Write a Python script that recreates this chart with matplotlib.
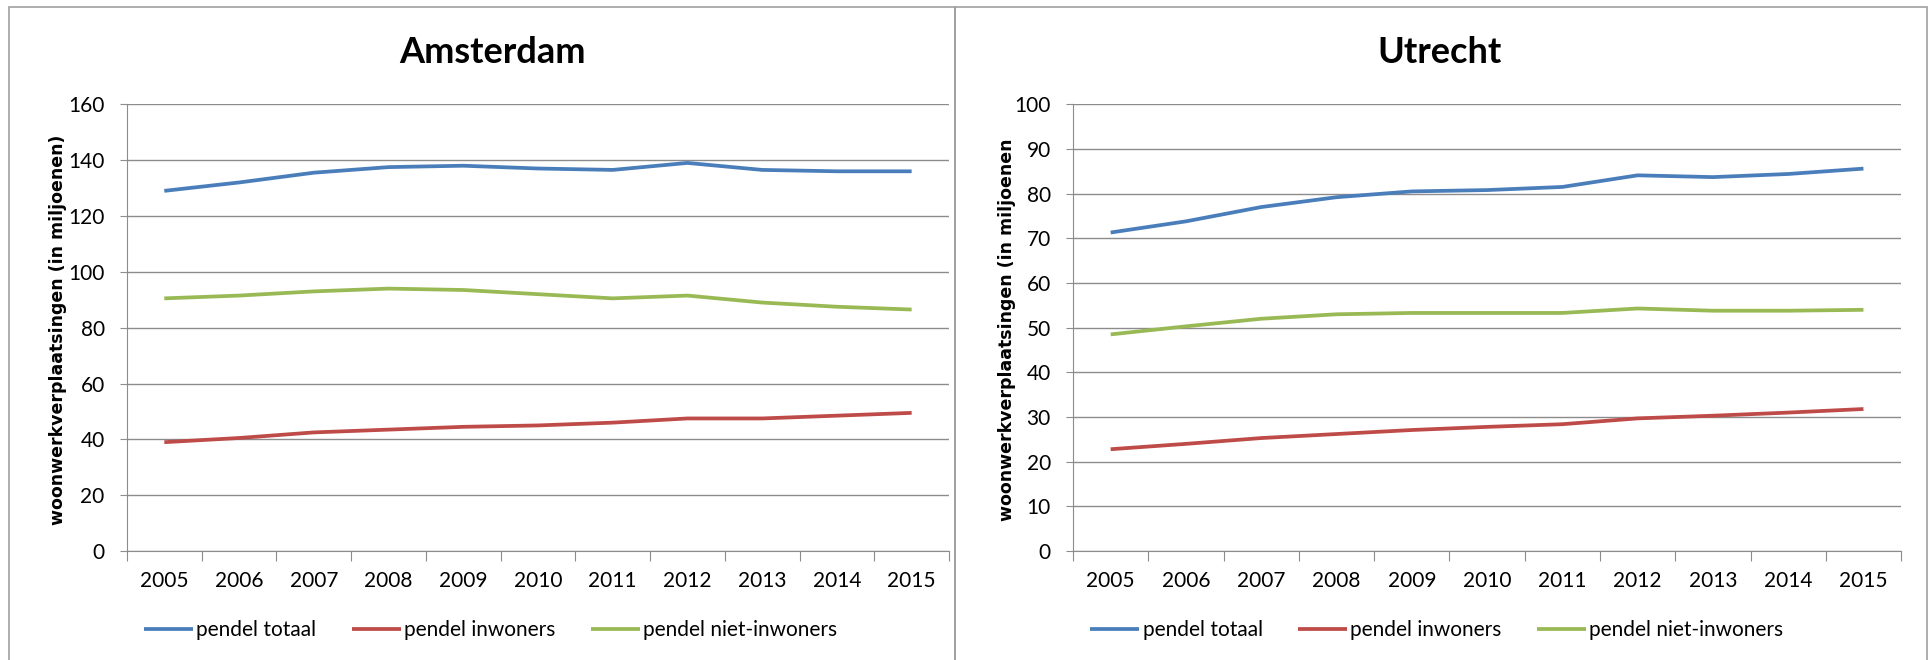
import matplotlib
matplotlib.use("Agg")
import matplotlib.pyplot as plt
from matplotlib.patches import Rectangle
import numpy as np

plt.rcParams['font.family'] = ['Lato', 'DejaVu Sans']

jaren = ["2005", "2006", "2007", "2008", "2009", "2010", "2011", "2012", "2013", "2014", "2015"]
reeksen = ["pendel totaal", "pendel inwoners", "pendel niet-inwoners"]
kleuren = ["#4A7EBB", "#BE4B48", "#98B954"]

# Amsterdam
ams_totaal = [129, 132, 135.5, 137.5, 138, 137, 136.5, 139, 136.5, 136, 136]
ams_inwoners = [39, 40.5, 42.5, 43.5, 44.5, 45, 46, 47.5, 47.5, 48.5, 49.5]
ams_niet_inwoners = [90.5, 91.5, 93, 94, 93.5, 92, 90.5, 91.5, 89, 87.5, 86.5]

# Utrecht
utr_totaal = [71.3, 73.8, 77, 79.2, 80.5, 80.8, 81.5, 84.1, 83.7, 84.4, 85.6]
utr_inwoners = [22.8, 24, 25.3, 26.2, 27.1, 27.8, 28.4, 29.7, 30.3, 31, 31.8]
utr_niet_inwoners = [48.5, 50.3, 52, 53, 53.3, 53.3, 53.3, 54.3, 53.8, 53.8, 54]

fig = plt.figure(figsize=(19.32, 6.6), dpi=100)

# kaders rond de twee grafieken
for x0, w in [(0.0047, 0.4896), (0.4943, 0.5030)]:
    fig.patches.append(Rectangle((x0, -0.01), w, 0.999, transform=fig.transFigure,
                                 fill=False, edgecolor="#A0A0A0", linewidth=1.2))


def teken(rect, titel, tx, ylabel, lx, data, ymax, stap, leg_x):
    ax = fig.add_axes(rect)
    x = np.arange(len(jaren))
    for waarden, kleur, naam in zip(data, kleuren, reeksen):
        ax.plot(x, waarden, color=kleur, linewidth=2.7, label=naam, solid_capstyle='butt')
    ax.set_xlim(-0.5, len(jaren) - 0.5)
    ax.set_ylim(0, ymax)
    ax.set_yticks(np.arange(0, ymax + 1, stap))
    ax.yaxis.grid(True, color="#8C8C8C", linewidth=1)
    ax.set_axisbelow(True)
    # excel-stijl: streepjes tussen de categorieën
    ax.set_xticks(np.arange(-0.5, len(jaren)), labels=[])
    ax.set_xticks(x, labels=jaren, minor=True)
    ax.tick_params(axis='x', which='major', length=7, color="#8C8C8C", direction='out')
    ax.tick_params(axis='x', which='minor', length=0, labelsize=15, pad=14)
    ax.tick_params(axis='y', length=5, color="#8C8C8C", labelsize=15, pad=11)
    for k in ['top', 'right']:
        ax.spines[k].set_visible(False)
    for k in ['left', 'bottom']:
        ax.spines[k].set_color("#8C8C8C")
    fig.text(tx, 0.92, titel, ha='center', va='center', fontsize=26, fontweight='bold')
    fig.text(lx, 0.50, ylabel, ha='center', va='center', rotation=90, fontsize=12.5,
             fontweight='bold', family=['DejaVu Sans'])
    ax.legend(loc='center left', bbox_to_anchor=(leg_x, -0.177), ncol=3, frameon=False,
              fontsize=15, handlelength=2.35, handletextpad=0.15, columnspacing=1.7,
              borderaxespad=0, borderpad=0)
    return ax


teken([0.0657, 0.165, 0.4255, 0.677], "Amsterdam", 0.255, "woonwerkverplaatsingen (in miljoenen)", 0.030,
      [ams_totaal, ams_inwoners, ams_niet_inwoners], 160, 20, 0.021)
teken([0.5554, 0.165, 0.4286, 0.677], "Utrecht", 0.745, "woonwerkverplaatsingen (in miljoenen", 0.521,
      [utr_totaal, utr_inwoners, utr_niet_inwoners], 100, 10, 0.021)

fig.savefig("out.png", dpi=100, facecolor="white")
